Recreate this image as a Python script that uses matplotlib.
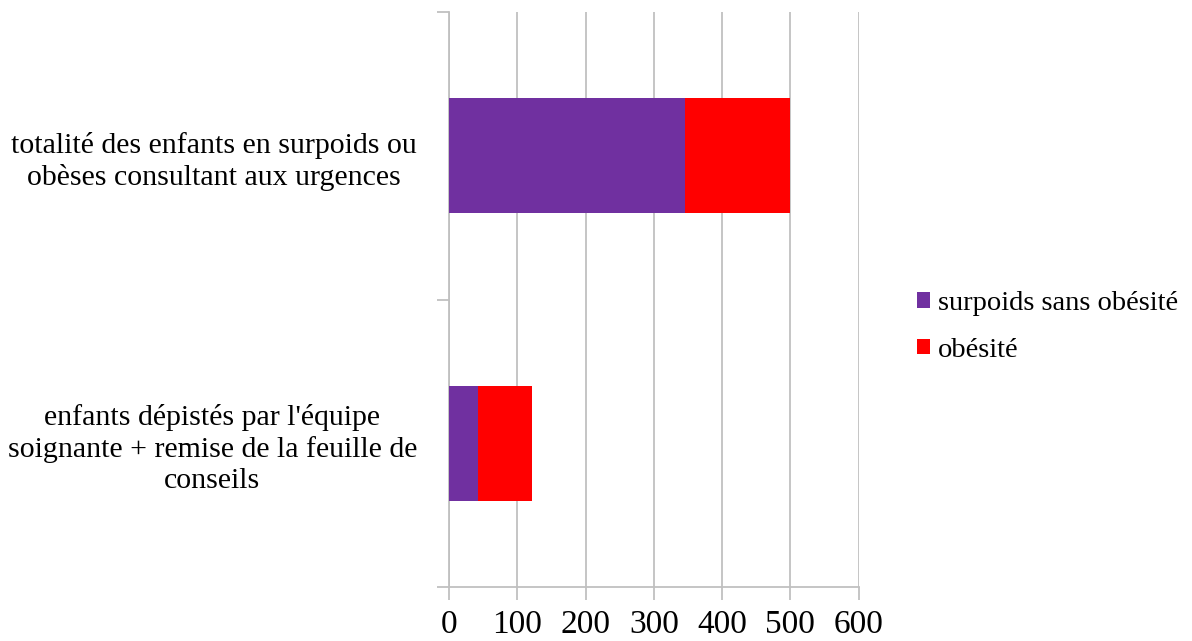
import matplotlib
matplotlib.use("Agg")
import matplotlib.pyplot as plt
import numpy as np

categories = ["enfants dépistés par l'équipe\nsoignante + remise de la feuille de\nconseils",
              "totalité des enfants en surpoids ou\nobèses consultant aux urgences"]
surpoids = [42, 346]
obesite = [80, 154]
series_names = ["surpoids sans obésité", "obésité"]
xticks = [0, 100, 200, 300, 400, 500, 600]

plt.rcParams['font.family'] = ['Liberation Serif', 'DejaVu Serif']

fig = plt.figure(figsize=(11.92, 6.41), dpi=100)
ax = fig.add_axes([449/1192, 1-587/641, (858.5-449)/1192, (587-12)/641])

y = np.arange(len(categories))
h1 = ax.barh(y, surpoids, height=0.4, color='#7030A0', label=series_names[0], zorder=3)
h2 = ax.barh(y, obesite, left=surpoids, height=0.4, color='#FF0000', label=series_names[1], zorder=3)

ax.set_xlim(0, 600)
ax.set_ylim(-0.5, 1.5)
ax.set_xticks(xticks)
ax.set_xticklabels([str(v) for v in xticks], fontsize=24)
ax.grid(axis='x', color='#c0c0c0', linewidth=1.3, zorder=0)
ax.set_axisbelow(True)

ax.set_yticks([-0.5, 0.5, 1.5])
ax.set_yticklabels([])
ax.set_yticks(y, minor=True)
ax.set_yticklabels(categories, minor=True, fontsize=21.5, multialignment='center', linespacing=1.25)
ax.tick_params(axis='y', which='minor', length=0, pad=23)
ax.tick_params(axis='y', which='major', length=9, color='#c0c0c0', width=1.3)
ax.tick_params(axis='x', length=9, color='#c0c0c0', width=1.3, pad=7)

for s in ['top', 'right']:
    ax.spines[s].set_visible(False)
for s in ['left', 'bottom']:
    ax.spines[s].set_color('#c0c0c0')
    ax.spines[s].set_linewidth(1.3)

leg = fig.legend(handles=[h1, h2], loc='center left', bbox_to_anchor=(891/1192, 1-327/641),
                 frameon=False, fontsize=20.5, handlelength=0.46, handleheight=0.46,
                 handletextpad=0.3, labelspacing=0.75)

fig.savefig('out.png', dpi=100)
